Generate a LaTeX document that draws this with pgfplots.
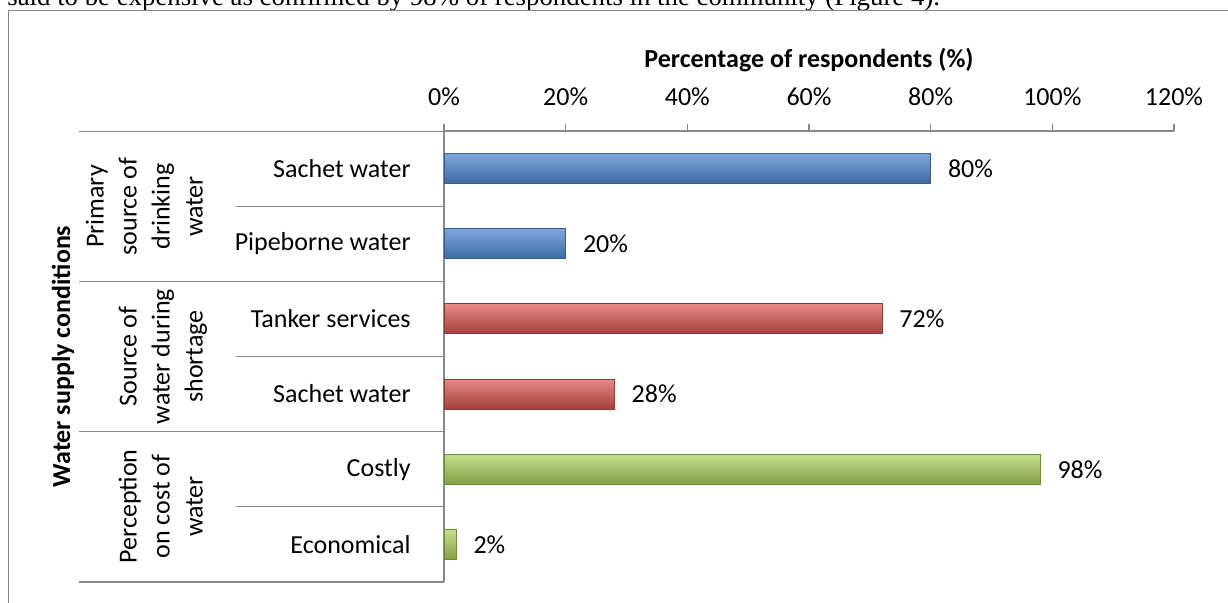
\documentclass[border=0pt]{standalone}
\usepackage{fontspec}
\setmainfont{Carlito}
\newfontfamily\timesfont{Liberation Serif}
\usepackage{pgfplots}
\pgfplotsset{compat=1.18}
\definecolor{axgray}{HTML}{888888}
\definecolor{bluetop}{HTML}{7EA7DC}
\definecolor{bluemid}{HTML}{4F81BD}
\definecolor{bluebot}{HTML}{3B6AA3}
\definecolor{bluedraw}{HTML}{385D8A}
\definecolor{redtop}{HTML}{E58A87}
\definecolor{redmid}{HTML}{C0504D}
\definecolor{redbot}{HTML}{A43F3C}
\definecolor{reddraw}{HTML}{8C3836}
\definecolor{greentop}{HTML}{C8DE8E}
\definecolor{greenmid}{HTML}{9BBB59}
\definecolor{greenbot}{HTML}{819F45}
\definecolor{greendraw}{HTML}{71893F}
\pgfplotsset{
  bluebar/.style={xbar,bar width=15pt,bar shift=0pt,draw=bluedraw,line width=0.4pt,top color=bluetop,middle color=bluemid,bottom color=bluebot},
  redbar/.style={xbar,bar width=15pt,bar shift=0pt,draw=reddraw,line width=0.4pt,top color=redtop,middle color=redmid,bottom color=redbot},
  greenbar/.style={xbar,bar width=15pt,bar shift=0pt,draw=greendraw,line width=0.4pt,top color=greentop,middle color=greenmid,bottom color=greenbot},
}
\begin{document}
\fontsize{13}{16.5}\selectfont
\begin{tikzpicture}[x=0.5pt,y=0.5pt,font=\fontsize{13}{16.5}\selectfont]
\useasboundingbox (0,0) rectangle (1228,603);
\clip (0,0) rectangle (1228,603);
\node[anchor=base west,inner sep=0,font=\timesfont\fontsize{13.4}{16}\selectfont] at (7,597) {said to be expensive as confirmed by 98\% of respondents in the community (Figure 4).};
\draw[axgray,line width=0.8pt] (8.5,-20) -- (8.5,592.5) -- (1240,592.5);
\begin{axis}[
  at={(222pt,236pt)}, anchor=north west,
  scale only axis, width=365pt, height=225.5pt,
  xmin=0, xmax=120, ymin=-0.5, ymax=5.5,
  axis x line*=top, axis y line*=left,
  axis line style={axgray,line width=0.8pt},
  /pgf/number format/assume math mode=true,
  xtick={0,20,...,120},
  xticklabel={\pgfmathprintnumber{\tick}\%},
  tick align=outside,
  major tick length=3.5pt,
  x tick style={axgray,line width=0.8pt},
  xticklabel style={anchor=base,inner sep=0pt,yshift=9pt},
  ytick={0,1,2,3,4,5},
  yticklabels={Economical,Costly,Sachet water,Tanker services,Pipeborne water,Sachet water},
  y tick style={draw=none},
  yticklabel style={anchor=east,inner sep=0pt,xshift=-13pt},
  xlabel={Percentage of respondents (\%)},
  xlabel style={font=\bfseries,at={(axis description cs:0.5,1)},anchor=base,inner sep=0pt,yshift=31.5pt},
  ylabel={Water supply conditions},
  ylabel style={font=\bfseries,at={(axis description cs:-0.5123,0.5)},anchor=base,inner sep=0pt},
  point meta=x,
  nodes near coords={\pgfmathprintnumber{\pgfplotspointmeta}\%},
  nodes near coords align={horizontal},
  every node near coord/.append style={anchor=west,inner sep=0pt,xshift=8.5pt,text=black},
  clip=false,
]
\addplot[bluebar] coordinates {(80,5)};
\addplot[bluebar] coordinates {(20,4)};
\addplot[redbar] coordinates {(72,3)};
\addplot[redbar] coordinates {(28,2)};
\addplot[greenbar] coordinates {(98,1)};
\addplot[greenbar] coordinates {(2,0)};
\end{axis}
% category table lines
\begin{scope}[axgray,line width=0.8pt]
\draw (79,471.5) -- (444,471.5);
\draw (236,396.5) -- (444,396.5);
\draw (79,321.5) -- (444,321.5);
\draw (236,246.5) -- (444,246.5);
\draw (79,171.5) -- (444,171.5);
\draw (236,96.5) -- (444,96.5);
\draw (79,21) -- (444,21);
\end{scope}
\node[rotate=90,anchor=south,align=center,inner sep=0pt] at (213,396.5) {Primary\\source of\\drinking\\water\strut};
\node[rotate=90,anchor=south,align=center,inner sep=0pt] at (213,246.5) {Source of\\water during\\shortage\strut};
\node[rotate=90,anchor=south,align=center,inner sep=0pt] at (213,96.5) {Perception\\on cost of\\water\strut};
\end{tikzpicture}
\end{document}
